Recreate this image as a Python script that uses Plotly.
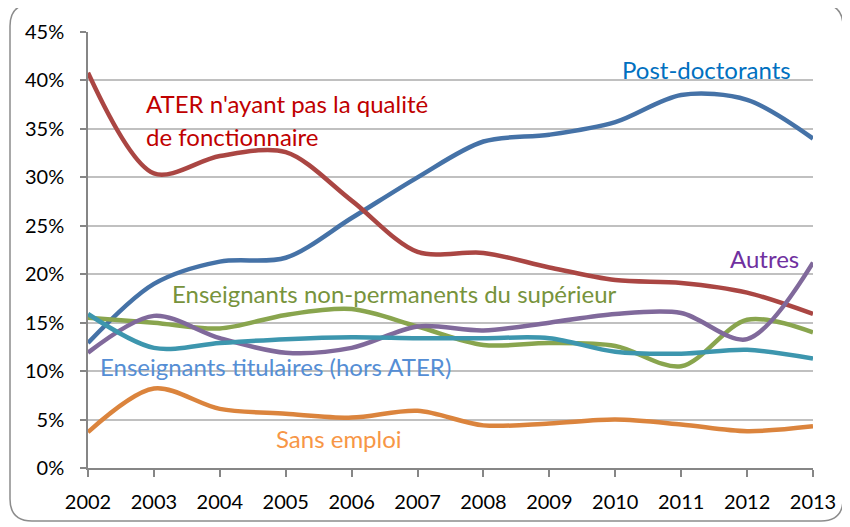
import plotly.graph_objects as go

years = [2002, 2003, 2004, 2005, 2006, 2007, 2008, 2009, 2010, 2011, 2012, 2013]

post_doc = [12.9, 19.0, 21.3, 21.7, 25.8, 30.0, 33.7, 34.4, 35.7, 38.5, 38.0, 34.0]
ater = [40.8, 30.4, 32.2, 32.6, 27.6, 22.3, 22.2, 20.7, 19.4, 19.1, 18.1, 15.9]
non_perm = [15.5, 15.0, 14.4, 15.8, 16.4, 14.6, 12.7, 12.9, 12.6, 10.5, 15.3, 14.0]
autres = [11.9, 15.7, 13.4, 11.9, 12.4, 14.6, 14.2, 15.0, 15.9, 16.0, 13.3, 21.2]
titulaires = [15.9, 12.4, 12.9, 13.3, 13.5, 13.4, 13.4, 13.4, 12.0, 11.8, 12.2, 11.3]
sans_emploi = [3.7, 8.2, 6.1, 5.6, 5.2, 5.9, 4.4, 4.6, 5.0, 4.5, 3.8, 4.3]

y_ticks = [0, 5, 10, 15, 20, 25, 30, 35, 40, 45]

FONT = "Lato"

series = [
    ("Post-doctorants", post_doc, "#4572A7"),
    ("ATER", ater, "#AA4643"),
    ("Enseignants non-permanents", non_perm, "#89A54E"),
    ("Autres", autres, "#80699B"),
    ("Enseignants titulaires", titulaires, "#3D96AE"),
    ("Sans emploi", sans_emploi, "#DB843D"),
]

fig = go.Figure()
for name, vals, color in series:
    fig.add_trace(go.Scatter(
        x=years, y=vals, name=name, mode="lines",
        line=dict(color=color, width=4.5, shape="spline", smoothing=0.9),
        hoverinfo="skip",
    ))

# --- labels placed next to the curves ---
labels = [
    (2011.38, 41.1, "Post-doctorants", "#0070C0", "center"),
    (2002.85, 37.6, "ATER n'ayant pas la qualité", "#C00000", "left"),
    (2002.85, 34.2, "de fonctionnaire", "#C00000", "left"),
    (2012.82, 21.6, "Autres", "#7030A0", "right"),
    (2003.25, 18.0, "Enseignants non-permanents du supérieur", "#77933C", "left"),
    (2002.15, 10.5, "Enseignants titulaires (hors ATER)", "#558ED5", "left"),
    (2004.82, 3.0, "Sans emploi", "#F79646", "left"),
]
for x, y, txt, col, anchor in labels:
    fig.add_annotation(x=x, y=y, text=txt, showarrow=False, xanchor=anchor,
                       yanchor="middle", font=dict(family=FONT, size=24, color=col))

# --- rounded frame around the chart (page has an 8px body margin) ---
W, H = 842, 519
L, R, T, B = 80, 37, 24, 59
pw, ph = W - L - R, H - T - B
def px(v):
    return (v - L) / pw
def py(v):
    return (H - B - v) / ph
x0, x1, y0, y1 = px(2), px(835), py(513), py(-4)
rx, ry = 22 / pw, 22 / ph
path = (f"M {x0+rx},{y1} L {x1-rx},{y1} Q {x1},{y1} {x1},{y1-ry} "
        f"L {x1},{y0+ry} Q {x1},{y0} {x1-rx},{y0} L {x0+rx},{y0} "
        f"Q {x0},{y0} {x0},{y0+ry} L {x0},{y1-ry} Q {x0},{y1} {x0+rx},{y1} Z")
fig.add_shape(type="path", path=path, xref="paper", yref="paper",
              line=dict(color="#8C8C8C", width=1.5), layer="below")

fig.update_layout(
    width=W, height=H,
    margin=dict(l=L, r=R, t=T, b=B, autoexpand=False),
    paper_bgcolor="white", plot_bgcolor="white",
    showlegend=False,
    font=dict(family=FONT, size=20, color="black"),
    xaxis=dict(
        range=[2002, 2013], tickvals=years, ticktext=[str(y) for y in years],
        showgrid=False, showline=True, linecolor="#868686", linewidth=1.5,
        ticks="outside", ticklen=7, tickcolor="#868686", tickwidth=1.5,
        zeroline=False, tickfont=dict(size=20), ticklabelstandoff=8,
    ),
    yaxis=dict(
        range=[0, 45], tickvals=y_ticks, ticktext=[f"{v}%" for v in y_ticks],
        showgrid=True, gridcolor="#C0C0C0", gridwidth=1.5,
        showline=True, linecolor="#868686", linewidth=1.5,
        ticks="outside", ticklen=6, tickcolor="#868686", tickwidth=1.5,
        zeroline=False, tickfont=dict(size=20), ticklabelstandoff=12,
    ),
)

fig.write_html("out.html")
